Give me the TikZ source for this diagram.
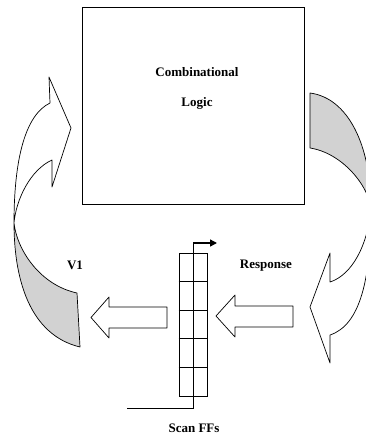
\documentclass[tikz,border=0pt]{standalone}
\usepackage{fontspec}
\setmainfont{Liberation Serif}
\usetikzlibrary{calc,arrows.meta}

\tikzset{
  lbl/.style={font=\bfseries\fontsize{13}{15}\selectfont},
  band/.style={draw, line width=0.7pt, line join=round},
  back/.style={fill=gray!35},
  wire/.style={line width=0.8pt},
}

\begin{document}
\begin{tikzpicture}[x=1pt,y=-1pt]
\useasboundingbox (0,0) rectangle (365,437);

\node (cl) [draw, wire, minimum width=222pt, minimum height=197pt] at (193,105.5) {};
\node (cltop) [lbl] at (197,72) {Combinational};
\node (clbot) [lbl] at (197,103) {Logic};

% curved arrow on the left, its back side shaded
\fill[back] (14,223) .. controls (17,250) and (40,285) .. (77,293)
    -- (80,347) .. controls (30,335) and (14,280) .. (14,223) -- cycle;
\draw[band] (52,160) .. controls (30,170) and (16,200) .. (14,223)
    .. controls (17,250) and (40,285) .. (77,293)
    -- (80,347) .. controls (30,335) and (14,280) .. (14,223)
    .. controls (14,160) and (25,115) .. (50,103)
    -- (49,77) -- (71,128) -- (52,187) -- cycle;

% curved arrow on the right
\fill[back] (310,93) .. controls (348,98) and (371,145) .. (371,208)
    .. controls (368,185) and (342,153) .. (310,148) -- cycle;
\draw[band] (310,148) .. controls (342,153) and (368,185) .. (371,208)
    .. controls (368,245) and (352,275) .. (330,282)
    -- (330,253) -- (310,307) -- (330,363) -- (330,335)
    .. controls (360,325) and (371,280) .. (371,208)
    .. controls (371,145) and (348,98) .. (310,93) -- cycle;

% block arrows
\draw[band] (167,307) -- (109,307) -- (109,297) -- (91,317.5)
    -- (109,338) -- (109,328) -- (167,328) -- cycle;
\draw[band] (293,306) -- (235,306) -- (235,295) -- (216,316)
    -- (235,337) -- (235,327) -- (293,327) -- cycle;

\node (v1) [lbl] at (75,265) {V1};
\node (resp) [lbl] at (266,266) {Response};

% scan chain
\node (ff) [draw, wire, minimum width=28pt, minimum height=143pt, inner sep=0pt] at (193,324.5) {};
\foreach \i in {1,...,4}
    \draw[wire] ($(ff.north west)!\i/5!(ff.south west)$) -- ($(ff.north east)!\i/5!(ff.south east)$);
\coordinate (sin) at (127,408);
\coordinate (sout) at (217,243);
\draw[wire] (sin) -| (ff.north |- sout);
\draw[line width=1.4pt, -{Triangle[length=7pt,width=7pt]}] (ff.north |- sout) -- (sout);

\node (scan) [lbl] at (194,428) {Scan FFs};
\end{tikzpicture}
\end{document}
